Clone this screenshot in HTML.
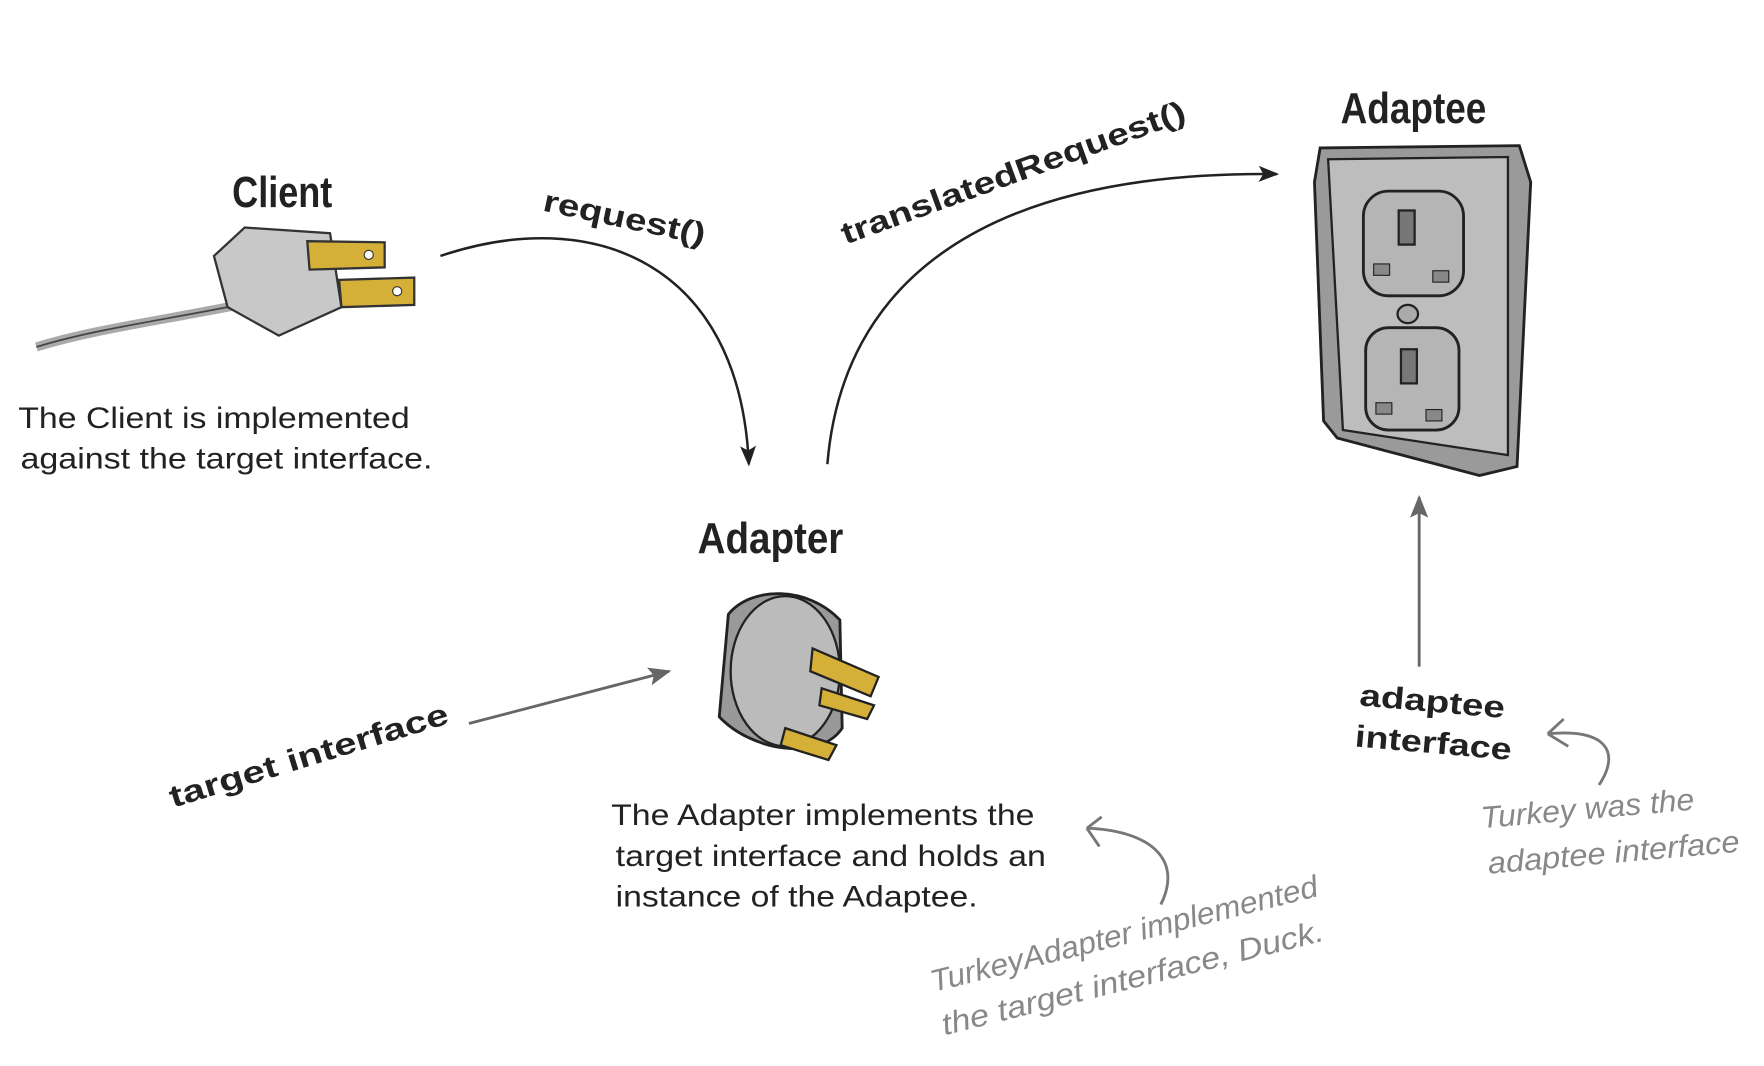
<!DOCTYPE html>
<html><head><meta charset="utf-8"><style>
html,body{margin:0;padding:0;background:#fff;}
svg{display:block;}
.hd{font-family:"Liberation Sans",sans-serif;font-weight:bold;font-size:38px;fill:#222;}
.lb{font-family:"Liberation Sans",sans-serif;font-weight:bold;font-size:27px;fill:#222;}
.tx{font-family:"Liberation Sans",sans-serif;font-size:26px;fill:#222;}
.hw{font-family:"Liberation Sans",sans-serif;font-size:27px;fill:#888;font-style:italic;}
</style></head><body>
<svg width="1764" height="1066" viewBox="0 0 1550 937" preserveAspectRatio="none" xmlns="http://www.w3.org/2000/svg">
<defs>
<marker id="ab" markerWidth="20" markerHeight="20" refX="16" refY="10" orient="auto" markerUnits="userSpaceOnUse"><path d="M0,3 L18,10 L0,17 L4,10z" fill="#222"/></marker>
<marker id="ag" markerWidth="22" markerHeight="22" refX="18" refY="11" orient="auto" markerUnits="userSpaceOnUse"><path d="M0,3 L20,11 L0,19 L4,11z" fill="#666"/></marker>
</defs>
<rect width="1550" height="937" fill="#fff"/>
<text x="204" y="182" class="hd" textLength="88" lengthAdjust="spacingAndGlyphs">Client</text>
<text x="1178" y="108" class="hd" textLength="128" lengthAdjust="spacingAndGlyphs">Adaptee</text>
<text x="613" y="486" class="hd" textLength="128" lengthAdjust="spacingAndGlyphs">Adapter</text>
<path d="M32,305 C80,290 140,282 210,268" stroke="#aaa" stroke-width="8" fill="none"/>
<path d="M32,305 C80,290 140,282 210,268" stroke="#444" stroke-width="1.5" fill="none"/>
<path d="M188,225 L215,200 L290,205 L300,270 L245,295 L200,270 Z" fill="#c8c8c8" stroke="#333" stroke-width="2"/>
<path d="M270,212 L338,213 L338,235 L272,237 Z" fill="#d4b038" stroke="#333" stroke-width="2"/>
<path d="M298,246 L364,244 L364,268 L300,270 Z" fill="#d4b038" stroke="#333" stroke-width="2"/>
<circle cx="324" cy="224" r="4" fill="#fff" stroke="#333"/><circle cx="349" cy="256" r="4" fill="#fff" stroke="#333"/>
<text x="16" y="376" class="tx" textLength="344" lengthAdjust="spacingAndGlyphs">The Client is implemented</text>
<text x="18" y="412" class="tx" textLength="362" lengthAdjust="spacingAndGlyphs">against the target interface.</text>
<path d="M387,225 C520,180 650,230 658,408" stroke="#222" stroke-width="2.2" fill="none" marker-end="url(#ab)"/>
<path d="M727,408 C740,250 860,150 1122,153" stroke="#222" stroke-width="2.2" fill="none" marker-end="url(#ab)"/>
<text class="lb" transform="translate(476,185) rotate(12)" textLength="145" lengthAdjust="spacingAndGlyphs">request()</text>
<text class="lb" transform="translate(743,215) rotate(-20)" textLength="320" lengthAdjust="spacingAndGlyphs">translatedRequest()</text>
<path d="M1160,130 L1335,128 L1345,160 L1333,410 L1300,418 L1175,385 L1163,370 L1155,160 Z" fill="#9a9a9a" stroke="#222" stroke-width="2.5"/>
<path d="M1167,140 L1325,138 L1325,400 L1180,378 Z" fill="#bdbdbd" stroke="#222" stroke-width="2"/>
<rect x="1198" y="168" width="88" height="92" rx="22" fill="#b5b5b5" stroke="#222" stroke-width="2.5"/>
<rect x="1200" y="288" width="82" height="90" rx="20" fill="#b5b5b5" stroke="#222" stroke-width="2.5"/>
<rect x="1229" y="185" width="14" height="30" fill="#777" stroke="#222" stroke-width="2"/>
<rect x="1231" y="307" width="14" height="30" fill="#777" stroke="#222" stroke-width="2"/>
<rect x="1207" y="232" width="14" height="10" fill="#888" stroke="#222"/><rect x="1259" y="238" width="14" height="10" fill="#888" stroke="#222"/>
<rect x="1209" y="354" width="14" height="10" fill="#888" stroke="#222"/><rect x="1253" y="360" width="14" height="10" fill="#888" stroke="#222"/>
<ellipse cx="1237" cy="276" rx="9" ry="8" fill="#aaa" stroke="#222" stroke-width="2"/>
<path d="M640,540 C660,515 710,515 738,545 L740,640 C720,670 660,660 632,630 Z" fill="#999" stroke="#222" stroke-width="2.5"/>
<ellipse cx="690" cy="590" rx="48" ry="66" fill="#bbb" stroke="#222" stroke-width="2"/>
<path d="M714,570 L772,595 L765,612 L712,590 Z" fill="#d4b038" stroke="#222" stroke-width="2"/>
<path d="M722,605 L768,620 L762,632 L720,620 Z" fill="#d4b038" stroke="#222" stroke-width="2"/>
<path d="M690,640 L735,655 L728,668 L686,655 Z" fill="#d4b038" stroke="#222" stroke-width="2"/>
<path d="M412,636 L588,590" stroke="#666" stroke-width="2.5" fill="none" marker-end="url(#ag)"/>
<text class="lb" transform="translate(152,710) rotate(-17)" textLength="255" lengthAdjust="spacingAndGlyphs">target interface</text>
<text x="537" y="725" class="tx" textLength="372" lengthAdjust="spacingAndGlyphs">The Adapter implements the</text>
<text x="541" y="761" class="tx" textLength="378" lengthAdjust="spacingAndGlyphs">target interface and holds an</text>
<text x="541" y="797" class="tx" textLength="318" lengthAdjust="spacingAndGlyphs">instance of the Adaptee.</text>
<path d="M1247,586 L1247,437" stroke="#666" stroke-width="2.5" fill="none" marker-end="url(#ag)"/>
<text class="lb" transform="translate(1194,620) rotate(5)" textLength="128" lengthAdjust="spacingAndGlyphs">adaptee</text>
<text class="lb" transform="translate(1190,656) rotate(5)" textLength="138" lengthAdjust="spacingAndGlyphs">interface</text>
<path d="M1405,690 C1425,660 1410,640 1360,645 M1360,645 L1374,632 M1360,645 L1378,656" stroke="#777" stroke-width="2.5" fill="none"/>
<text class="hw" transform="translate(1302,728) rotate(-5)" textLength="188" lengthAdjust="spacingAndGlyphs">Turkey was the</text>
<text class="hw" transform="translate(1308,768) rotate(-5)" textLength="222" lengthAdjust="spacingAndGlyphs">adaptee interface</text>
<path d="M1020,795 C1040,755 1010,730 955,728 M955,728 L968,718 M955,728 L966,744" stroke="#777" stroke-width="2.5" fill="none"/>
<text class="hw" transform="translate(820,872) rotate(-14)" textLength="350" lengthAdjust="spacingAndGlyphs">TurkeyAdapter implemented</text>
<text class="hw" transform="translate(830,910) rotate(-14)" textLength="345" lengthAdjust="spacingAndGlyphs">the target interface, Duck.</text>
</svg>
</body></html>
